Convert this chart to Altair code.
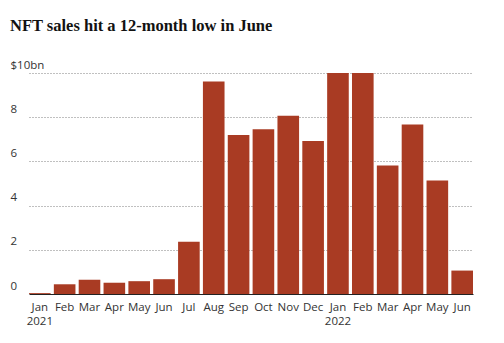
import altair as alt
import pandas as pd

months = ["Jan", "Feb", "Mar", "Apr", "May", "Jun", "Jul", "Aug", "Sep", "Oct", "Nov", "Dec",
          "Jan", "Feb", "Mar", "Apr", "May", "Jun"]
years = ["2021"] * 12 + ["2022"] * 6
sales = [0.04, 0.44, 0.65, 0.51, 0.58, 0.67, 2.36, 9.62, 7.2, 7.45, 8.06, 6.92,
         10.0, 10.0, 5.82, 7.67, 5.14, 1.06]
y_ticks = [0, 2, 4, 6, 8, 10]

keys = [f"{y}|{m}" for y, m in zip(years, months)]
df = pd.DataFrame({"key": keys, "month": months, "year": years, "sales": sales})

label_expr = ("split(datum.value, '|')[1] == 'Jan' ? "
              "[split(datum.value, '|')[1], split(datum.value, '|')[0]] : "
              "split(datum.value, '|')[1]")

chart = alt.Chart(df).mark_bar(color="#a93b23").encode(
    x=alt.X("key:N", sort=keys, title=None,
            scale=alt.Scale(range=[19, 463], paddingInner=0.13, paddingOuter=0),
            axis=alt.Axis(labelExpr=label_expr, labelAngle=0, ticks=False, domain=False,
                          labelPadding=7, labelFont="Open Sans", labelFontSize=11.5,
                          labelColor="#333333", labelLineHeight=14)),
    y=alt.Y("sales:Q", title=None,
            scale=alt.Scale(domain=[0, 10], nice=False),
            axis=alt.Axis(values=y_ticks, ticks=False, domain=False, grid=True,
                          gridColor={"condition": {"test": "datum.value === 0", "value": "#222222"}, "value": "#808080"},
                          gridDash={"condition": {"test": "datum.value === 0", "value": []}, "value": [1, 2]},
                          gridWidth=1,
                          labelExpr="datum.value == 10 ? '$10bn' : datum.label",
                          labelAlign="left", labelBaseline="bottom", labelPadding=0,
                          labelOffset=-3, labelFont="Open Sans", labelFontSize=11.5,
                          labelColor="#333333")),
).properties(
    width=468, height=221,
    padding={"left": 10, "top": 73, "right": 26, "bottom": 49},
    autosize=alt.AutoSizeParams(type="none"),
    title=alt.TitleParams("NFT sales hit a 12-month low in June", anchor="start",
                          font="Liberation Serif", fontSize=16.5, fontWeight="bold",
                          color="#121212", offset=25, frame="group"),
).configure_view(stroke=None)

chart.save("out.html", embed_options={"renderer": "svg", "actions": False})
